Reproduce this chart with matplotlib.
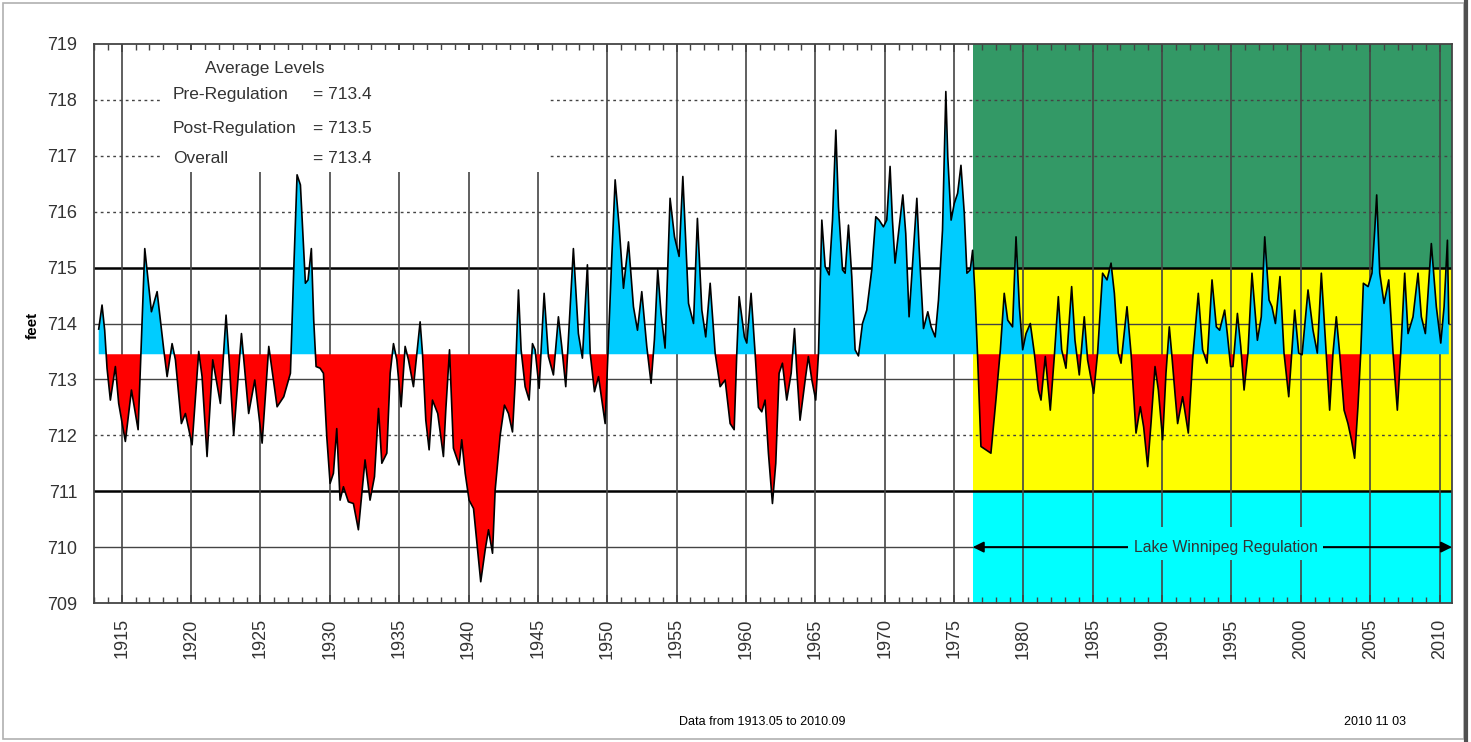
"""Lake Winnipeg monthly levels 1913-2010 — departure from long-term average"""
import matplotlib
matplotlib.use("Agg")
import matplotlib.pyplot as plt
import numpy as np
from matplotlib.lines import Line2D
from matplotlib.patches import Rectangle
from matplotlib.ticker import MultipleLocator

plt.rcParams["font.family"] = ["Liberation Sans", "DejaVu Sans"]

_CYAN_DATA = "#00ccff"
_RED_DATA  = "#ff0000"
_GREEN     = "#339966"
_YELLOW    = "#ffff00"
_CYAN_BAND = "#00ffff"
_GRID      = "#444444"
_TEXT      = "#333333"

# ── data ──────────────────────────────────────────────────────────────────────

years = [
    1913.34, 1913.58, 1913.77, 1913.94, 1914.18, 1914.54, 1914.78, 1915.26, 1915.70, 1916.18,
    1916.66, 1917.14, 1917.55, 1918.03, 1918.27, 1918.63, 1918.87, 1919.30, 1919.59, 1920.07,
    1920.55, 1920.79, 1921.15, 1921.56, 1922.11, 1922.52, 1922.71, 1923.07, 1923.63, 1924.15,
    1924.59, 1925.12, 1925.60, 1926.20, 1926.68, 1927.16, 1927.40, 1927.64, 1927.88, 1928.24,
    1928.43, 1928.67, 1928.84, 1929.01, 1929.30, 1929.54, 1929.78, 1930.02, 1930.26, 1930.50,
    1930.74, 1930.98, 1931.34, 1931.70, 1932.06, 1932.54, 1932.90, 1933.22, 1933.51, 1933.75,
    1934.11, 1934.35, 1934.59, 1934.83, 1935.14, 1935.43, 1935.67, 1936.03, 1936.51, 1936.68,
    1936.92, 1937.16, 1937.40, 1937.78, 1938.19, 1938.36, 1938.63, 1938.91, 1939.32, 1939.51,
    1939.76, 1940.04, 1940.36, 1940.72, 1940.88, 1941.20, 1941.44, 1941.73, 1941.92, 1942.28,
    1942.59, 1942.88, 1943.17, 1943.36, 1943.60, 1943.79, 1944.08, 1944.37, 1944.61, 1944.80,
    1945.09, 1945.45, 1945.76, 1946.12, 1946.48, 1946.72, 1947.01, 1947.56, 1947.92, 1948.21,
    1948.57, 1948.77, 1949.08, 1949.37, 1949.85, 1950.33, 1950.57, 1950.86, 1951.17, 1951.53,
    1951.89, 1952.18, 1952.49, 1952.85, 1953.16, 1953.40, 1953.64, 1953.88, 1954.17, 1954.53,
    1954.85, 1955.18, 1955.45, 1955.86, 1956.22, 1956.50, 1956.82, 1957.10, 1957.42, 1957.78,
    1958.14, 1958.50, 1958.86, 1959.15, 1959.34, 1959.51, 1959.89, 1960.06, 1960.37, 1960.66,
    1960.90, 1961.14, 1961.38, 1961.62, 1961.91, 1962.15, 1962.39, 1962.63, 1962.94, 1963.26,
    1963.50, 1963.66, 1963.90, 1964.27, 1964.50, 1964.75, 1965.03, 1965.23, 1965.47, 1965.71,
    1966.00, 1966.24, 1966.48, 1966.67, 1966.96, 1967.15, 1967.39, 1967.63, 1967.87, 1968.11,
    1968.40, 1968.71, 1969.07, 1969.36, 1969.60, 1969.91, 1970.15, 1970.39, 1970.56, 1970.75,
    1970.99, 1971.31, 1971.52, 1971.76, 1972.00, 1972.32, 1972.48, 1972.80, 1973.11, 1973.35,
    1973.64, 1973.88, 1974.17, 1974.41, 1974.55, 1974.79, 1975.02, 1975.26, 1975.50, 1975.74,
    1975.93, 1976.17, 1976.34, 1976.51, 1976.70, 1976.94, 1977.30, 1977.66, 1978.02, 1978.34,
    1978.62, 1978.87, 1979.22, 1979.47, 1979.71, 1979.95, 1980.19, 1980.50, 1980.79, 1981.08,
    1981.27, 1981.58, 1981.94, 1982.23, 1982.52, 1982.76, 1983.07, 1983.48, 1983.72, 1984.03,
    1984.39, 1984.63, 1985.07, 1985.35, 1985.71, 1986.03, 1986.32, 1986.56, 1986.84, 1987.04,
    1987.47, 1987.76, 1988.12, 1988.43, 1988.67, 1988.96, 1989.20, 1989.49, 1989.73, 1990.04,
    1990.28, 1990.52, 1990.69, 1990.93, 1991.12, 1991.48, 1991.89, 1992.20, 1992.61, 1992.92,
    1993.24, 1993.60, 1993.91, 1994.15, 1994.51, 1994.70, 1994.94, 1995.11, 1995.43, 1995.67,
    1995.91, 1996.19, 1996.48, 1996.87, 1997.15, 1997.40, 1997.71, 1997.92, 1998.17, 1998.50,
    1998.79, 1999.13, 1999.56, 1999.85, 2000.09, 2000.52, 2000.88, 2001.19, 2001.48, 2001.77,
    2002.08, 2002.32, 2002.56, 2002.80, 2003.12, 2003.40, 2003.65, 2003.88, 2004.12, 2004.32,
    2004.51, 2004.85, 2005.13, 2005.33, 2005.47, 2005.69, 2006.00, 2006.34, 2006.65, 2006.96,
    2007.20, 2007.49, 2007.73, 2008.09, 2008.45, 2008.69, 2008.98, 2009.41, 2009.77, 2010.09,
    2010.33, 2010.57, 2010.67,
]

levels = [
    713.90, 714.33, 713.88, 713.20, 712.63, 713.23, 712.57, 711.89, 712.81, 712.10,
    715.34, 714.21, 714.57, 713.53, 713.05, 713.64, 713.35, 712.21, 712.39, 711.83,
    713.50, 713.05, 711.62, 713.35, 712.57, 714.15, 713.47, 712.00, 713.82, 712.39,
    712.99, 711.86, 713.59, 712.51, 712.69, 713.11, 714.96, 716.66, 716.48, 714.72,
    714.78, 715.34, 714.06, 713.23, 713.20, 713.11, 711.98, 711.14, 711.32, 712.12,
    710.84, 711.08, 710.81, 710.78, 710.31, 711.56, 710.84, 711.26, 712.48, 711.50,
    711.68, 713.11, 713.64, 713.35, 712.51, 713.59, 713.35, 712.87, 714.03, 713.47,
    712.27, 711.74, 712.63, 712.39, 711.62, 712.45, 713.53, 711.77, 711.47, 711.92,
    711.32, 710.84, 710.69, 709.77, 709.38, 709.95, 710.31, 709.89, 711.02, 712.00,
    712.54, 712.39, 712.06, 712.93, 714.60, 713.53, 712.87, 712.63, 713.64, 713.53,
    712.84, 714.54, 713.41, 713.08, 714.12, 713.59, 712.87, 715.34, 713.82, 713.38,
    715.05, 713.47, 712.78, 713.05, 712.21, 715.20, 716.57, 715.73, 714.63, 715.46,
    714.30, 713.88, 714.57, 713.59, 712.93, 713.71, 714.96, 714.18, 713.56, 716.24,
    715.55, 715.20, 716.63, 714.36, 714.00, 715.88, 714.24, 713.76, 714.72, 713.47,
    712.87, 712.99, 712.21, 712.10, 713.47, 714.48, 713.76, 713.65, 714.54, 713.47,
    712.50, 712.42, 712.63, 711.68, 710.78, 711.50, 713.11, 713.29, 712.63, 713.11,
    713.91, 713.17, 712.27, 712.99, 713.41, 712.99, 712.63, 713.47, 715.85, 715.02,
    714.87, 715.85, 717.46, 716.09, 714.96, 714.90, 715.76, 714.84, 713.53, 713.42,
    714.00, 714.24, 714.96, 715.91, 715.85, 715.73, 715.85, 716.81, 715.85, 715.08,
    715.61, 716.30, 715.61, 714.12, 715.02, 716.24, 715.38, 713.91, 714.21, 713.94,
    713.76, 714.42, 715.67, 718.15, 716.98, 715.85, 716.15, 716.33, 716.83, 715.97,
    714.90, 714.96, 715.31, 714.54, 713.41, 711.80, 711.74, 711.68, 712.63, 713.53,
    714.54, 714.06, 713.94, 715.55, 714.30, 713.53, 713.82, 714.00, 713.47, 712.81,
    712.63, 713.41, 712.45, 713.41, 714.48, 713.53, 713.20, 714.66, 713.70, 713.08,
    714.12, 713.35, 712.75, 713.47, 714.90, 714.78, 715.08, 714.54, 713.47, 713.29,
    714.30, 713.47, 712.04, 712.51, 712.15, 711.44, 712.21, 713.23, 712.81, 711.92,
    713.11, 713.94, 713.47, 712.75, 712.21, 712.69, 712.04, 713.35, 714.54, 713.53,
    713.29, 714.78, 713.94, 713.88, 714.24, 713.82, 713.23, 713.23, 714.18, 713.59,
    712.81, 713.47, 714.90, 713.70, 714.12, 715.55, 714.42, 714.30, 714.00, 714.84,
    713.47, 712.69, 714.24, 713.47, 713.44, 714.60, 713.88, 713.47, 714.90, 713.70,
    712.45, 713.47, 714.12, 713.47, 712.45, 712.21, 711.92, 711.59, 712.51, 713.47,
    714.72, 714.66, 714.90, 715.67, 716.30, 714.90, 714.36, 714.78, 713.47, 712.45,
    713.47, 714.90, 713.82, 714.12, 714.90, 714.12, 713.82, 715.43, 714.30, 713.65,
    714.30, 715.49, 714.00,
]

base_level = 713.45          # long-term average the fill is drawn against
reg_start = 1976.35          # start of Lake Winnipeg regulation
reg_upper, reg_lower = 715.0, 711.0
avg_labels = ["Pre-Regulation", "Post-Regulation", "Overall"]
avg_values = [713.4, 713.5, 713.4]

X_MIN, X_MAX = 1913.0, 2010.9
Y_MIN, Y_MAX = 709, 719

# ── figure ───────────────────────────────────────────────────────────────────

fig = plt.figure(figsize=(14.71, 7.42), dpi=100, facecolor="white")
ax = fig.add_axes([94 / 1471, 1 - 603 / 742, 1358 / 1471, 559 / 742])
ax.set_xlim(X_MIN, X_MAX)
ax.set_ylim(Y_MIN, Y_MAX)

# 규제 구간 배경 밴드
ax.fill_between([reg_start, X_MAX], reg_upper, Y_MAX, color=_GREEN, lw=0, zorder=0)
ax.fill_between([reg_start, X_MAX], reg_lower, reg_upper, color=_YELLOW, lw=0, zorder=0)
ax.fill_between([reg_start, X_MAX], Y_MIN, reg_lower, color=_CYAN_BAND, lw=0, zorder=0)

# grid
for lv in (718, 717, 716, 712):
    ax.axhline(lv, color=_GRID, lw=1.0, ls=(0, (2, 2.5)), zorder=1)
for lv in (714, 713, 710):
    ax.axhline(lv, color=_GRID, lw=1.0, zorder=1)
for lv in (reg_upper, reg_lower):
    ax.axhline(lv, color="black", lw=1.8, zorder=1)
for yr in range(1915, 2011, 5):
    ax.axvline(yr, color=_GRID, lw=1.2, zorder=1)

# level series
xs = np.array(years)
ys = np.array(levels)
ax.fill_between(xs, ys, base_level, where=ys >= base_level, interpolate=True,
                color=_CYAN_DATA, lw=0, zorder=2)
ax.fill_between(xs, ys, base_level, where=ys <= base_level, interpolate=True,
                color=_RED_DATA, lw=0, zorder=2)
ax.plot(xs, ys, color="black", lw=1.2, zorder=3)

# ── average levels box ───────────────────────────────────────────────────────

ax.add_patch(Rectangle((0.0508, 0.771), 0.285, 0.219, transform=ax.transAxes,
                       facecolor="white", edgecolor="none", zorder=4))
ax.text(0.126, 0.957, "Average Levels", transform=ax.transAxes, ha="center",
        va="center", fontsize=12.5, color=_TEXT, zorder=5)
for i, (lab, val) in enumerate(zip(avg_labels, avg_values)):
    yy = [0.9088, 0.849, 0.7955][i]
    ax.text(0.0582, yy, lab, transform=ax.transAxes, ha="left", va="center",
            fontsize=12.5, color=_TEXT, zorder=5)
    ax.text(0.161, yy, f"= {val:.1f}", transform=ax.transAxes, ha="left",
            va="center", fontsize=12.5, color=_TEXT, zorder=5)

# ── regulation arrow ─────────────────────────────────────────────────────────

ax.annotate("", xy=(reg_start, 710), xytext=(X_MAX, 710),
            arrowprops=dict(arrowstyle="<|-|>", color="black", lw=1.4,
                            shrinkA=0, shrinkB=0, mutation_scale=16), zorder=4)
ax.add_patch(Rectangle((1987.55, 709.77), 14.05, 0.59, facecolor=_CYAN_BAND,
                       edgecolor="none", zorder=5))
ax.text(1994.6, 710.0, "Lake Winnipeg Regulation", ha="center", va="center",
        fontsize=11.3, color=_TEXT, zorder=6)

# ── axes styling ─────────────────────────────────────────────────────────────

ax.set_xticks(range(1915, 2011, 5))
ax.xaxis.set_minor_locator(MultipleLocator(1))
ax.set_xticklabels([str(y) for y in range(1915, 2011, 5)], rotation=90)
ax.set_yticks(range(Y_MIN, Y_MAX + 1))
ax.tick_params(axis="x", which="both", direction="in", top=True, bottom=True,
               colors=_GRID, labelcolor=_TEXT, labelsize=13, pad=11)
ax.tick_params(axis="x", which="major", length=6, width=1.2)
ax.tick_params(axis="x", which="minor", length=4, width=1.0)
ax.tick_params(axis="y", length=0, labelsize=13, labelcolor=_TEXT, pad=12)
for sp in ax.spines.values():
    sp.set_color(_GRID)
    sp.set_linewidth(1.3)
    sp.set_zorder(6)

ax.set_ylabel("feet", fontsize=11, fontweight="bold", color="black")
ax.yaxis.set_label_coords(-0.040, 0.497)

fig.text(0.518, 0.027, "Data from 1913.05 to 2010.09", ha="center", va="center",
         fontsize=9, color="black")
fig.text(0.935, 0.027, "2010 11 03", ha="center", va="center", fontsize=9,
         color="black")

# outer frame
fig.add_artist(Rectangle((0.002, 0.004), 0.993, 0.992, transform=fig.transFigure,
                         fill=False, edgecolor="#b0b0b0", lw=1.2))
fig.add_artist(Line2D([0.9963, 0.9963], [0, 1], transform=fig.transFigure,
                      color="#505050", lw=3))

fig.savefig("out.png", dpi=100, facecolor="white")
